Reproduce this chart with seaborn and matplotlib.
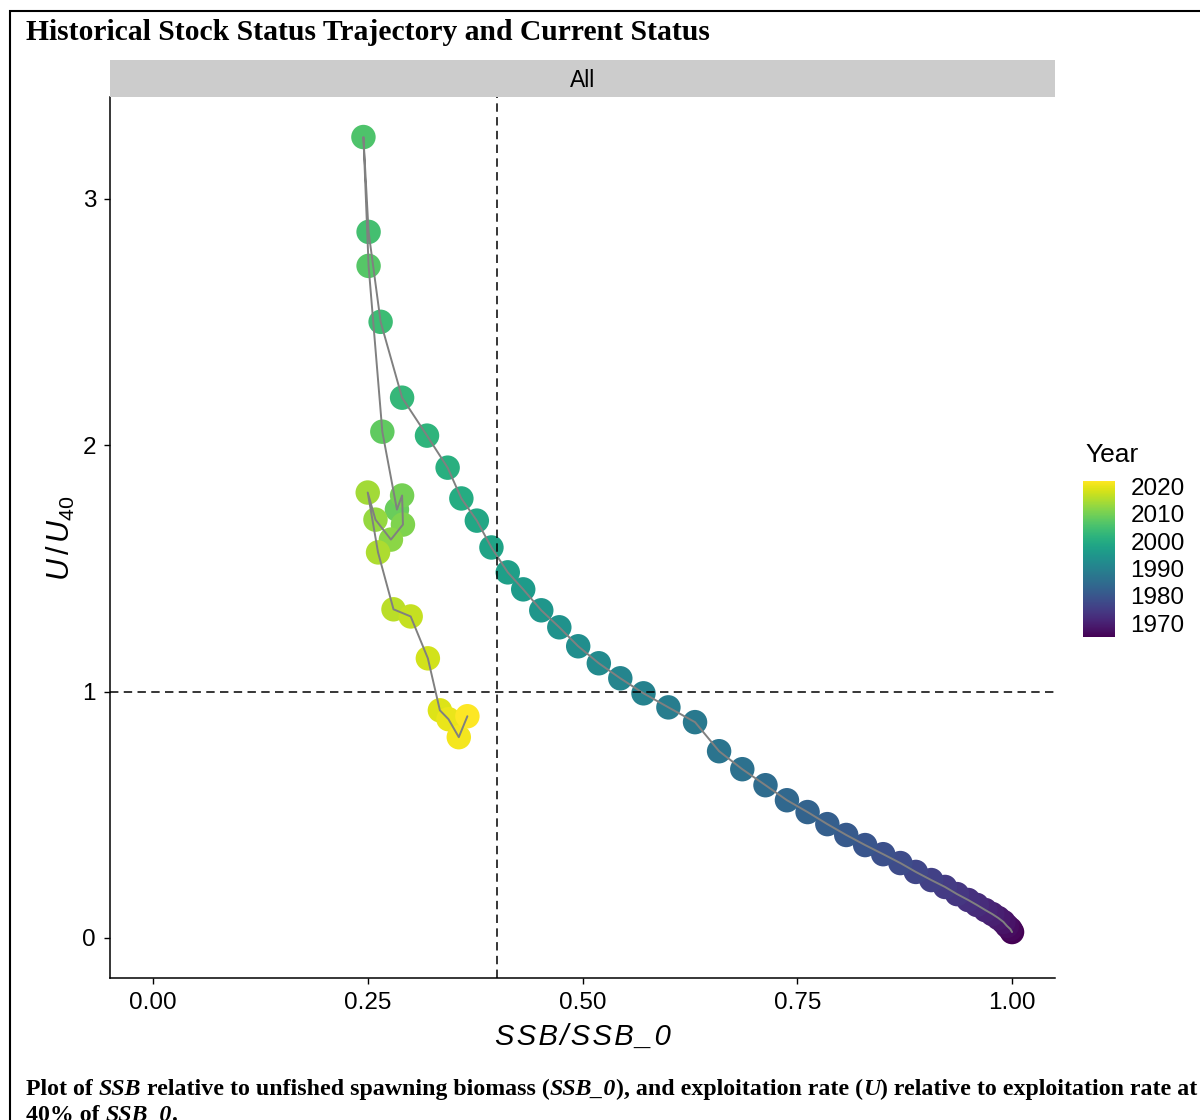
import numpy as np
import pandas as pd
import matplotlib
matplotlib.use("Agg")
import matplotlib.pyplot as plt
import matplotlib.patches as mpatches
import seaborn as sns
from matplotlib import font_manager as fm

# ---------------- data ----------------
years = list(range(1965, 2023))
ssb_ratio = [1.000, 0.998, 0.994, 0.990, 0.984, 0.977, 0.969, 0.959, 0.949, 0.936,
             0.922, 0.906, 0.888, 0.870, 0.850, 0.829, 0.807, 0.785, 0.762, 0.738,
             0.713, 0.686, 0.659, 0.631, 0.600, 0.571, 0.544, 0.519, 0.495, 0.473,
             0.452, 0.431, 0.413, 0.394, 0.377, 0.359, 0.343, 0.319, 0.290, 0.265,
             0.251, 0.245, 0.251, 0.267, 0.284, 0.290, 0.291, 0.277, 0.259, 0.250,
             0.262, 0.280, 0.300, 0.320, 0.334, 0.344, 0.356, 0.366]
u_ratio = [0.024, 0.036, 0.049, 0.065, 0.081, 0.097, 0.113, 0.134, 0.154, 0.178,
           0.207, 0.235, 0.268, 0.304, 0.340, 0.377, 0.418, 0.462, 0.511, 0.559,
           0.620, 0.685, 0.758, 0.876, 0.936, 0.993, 1.054, 1.115, 1.184, 1.261,
           1.330, 1.415, 1.484, 1.585, 1.694, 1.784, 1.909, 2.039, 2.193, 2.501,
           2.866, 3.251, 2.728, 2.055, 1.739, 1.796, 1.678, 1.617, 1.698, 1.808,
           1.565, 1.334, 1.305, 1.135, 0.924, 0.888, 0.815, 0.900]
x_ticks = [0.00, 0.25, 0.50, 0.75, 1.00]
x_tick_labels = ["0.00", "0.25", "0.50", "0.75", "1.00"]
y_ticks = [0, 1, 2, 3]
y_tick_labels = ["0", "1", "2", "3"]
year_ticks = [1970, 1980, 1990, 2000, 2010, 2020]
ssb_ref = 0.4
u_ref = 1.0

title_text = "Historical Stock Status Trajectory and Current Status"
strip_text = "All"
caption_line1 = [("Plot of ", False), ("SSB", True), (" relative to unfished spawning biomass (", False),
                 ("SSB_0", True), ("), and exploitation rate (", False), ("U", True),
                 (") relative to exploitation rate at", False)]
caption_line2 = [("40% of ", False), ("SSB_0", True), (".", False)]

# ---------------- style ----------------
sns.set_theme(style="white")
names = {f.name for f in fm.fontManager.ttflist}
SANS = "Liberation Sans" if "Liberation Sans" in names else "DejaVu Sans"
SERIF = "Liberation Serif" if "Liberation Serif" in names else "DejaVu Serif"
plt.rcParams["font.family"] = [SANS, "DejaVu Sans"]
plt.rcParams["mathtext.fontset"] = "custom"
plt.rcParams["mathtext.it"] = SANS + ":italic"
plt.rcParams["mathtext.rm"] = SANS
plt.rcParams["mathtext.bf"] = SANS + ":bold"

W, H = 1200, 1120
fig = plt.figure(figsize=(W / 100, H / 100), dpi=100)
fig.patch.set_facecolor("white")

def fx(px):
    return px / W

def fy(py):
    return 1 - py / H

# main panel
ax = fig.add_axes([fx(110), fy(978), fx(1055) - fx(110), fy(97) - fy(978)])
df = pd.DataFrame({"Year": years, "SSB_ratio": ssb_ratio, "U_ratio": u_ratio})
norm = plt.Normalize(min(years), max(years))

sns.scatterplot(data=df, x="SSB_ratio", y="U_ratio", hue="Year", palette="viridis",
                hue_norm=norm, s=310, linewidth=0, legend=False, ax=ax, zorder=3)
sns.lineplot(data=df, x="SSB_ratio", y="U_ratio", sort=False, estimator=None,
             color="#808080", lw=1.4, ax=ax, zorder=4)
ax.axvline(ssb_ref, color="black", lw=1.1, ls=(0, (5.5, 3.5)), zorder=5)
ax.axhline(u_ref, color="black", lw=1.1, ls=(0, (5.5, 3.5)), zorder=5)

ymax = max(u_ratio)
ax.set_xlim(-0.05, 1.05)
ax.set_ylim(-0.05 * ymax, ymax * 1.05)
ax.set_xticks(x_ticks)
ax.set_xticklabels(x_tick_labels)
ax.set_yticks(y_ticks)
ax.set_yticklabels(y_tick_labels)
ax.set_xlabel("")
ax.set_ylabel("")
for s in ["top", "right"]:
    ax.spines[s].set_visible(False)
for s in ["left", "bottom"]:
    ax.spines[s].set_color("black")
    ax.spines[s].set_linewidth(1.1)
ax.tick_params(axis="both", which="major", direction="out", length=4, width=1.0,
               color="black", labelsize=17.5, labelcolor="black",
               bottom=True, left=True)
ax.tick_params(axis="x", pad=6)
ax.tick_params(axis="y", pad=6)
ax.set_facecolor("white")

# strip
sax = fig.add_axes([fx(110), fy(97), fx(1055) - fx(110), fy(60) - fy(97)])
sax.set_facecolor("#cccccc")
sax.set_xticks([])
sax.set_yticks([])
for s in sax.spines.values():
    s.set_visible(False)
sax.text(0.5, 0.45, strip_text, ha="center", va="center", fontsize=16.5, color="black",
         transform=sax.transAxes)

# axis titles
hs = "\u200a"
fig.text(fx(583), fy(1037), hs.join("SSB/SSB_0"), ha="center", va="center", fontsize=21,
         fontstyle="italic", color="black")
fig.text(fx(61), fy(538), r"$U\,/\,U_{40}$", ha="center", va="center", fontsize=22,
         rotation=90, color="black")

# colorbar
cax = fig.add_axes([fx(1083), fy(637), fx(1115) - fx(1083), fy(481) - fy(637)])
sm = plt.cm.ScalarMappable(cmap="viridis", norm=norm)
sm.set_array([])
cb = fig.colorbar(sm, cax=cax, ticks=year_ticks)
cb.outline.set_visible(False)
cb.ax.tick_params(direction="in", length=6, width=1, color="white", left=True, right=True,
                  labelsize=17.5, labelcolor="black", pad=11)
cb.ax.set_yticklabels([str(y) for y in year_ticks])
fig.text(fx(1085), fy(455), "Year", ha="left", va="center", fontsize=19, color="black")

# title
fig.text(fx(26), fy(40), title_text, ha="left", va="baseline", fontsize=21.3,
         fontweight="bold", family=SERIF, color="black")

# caption
renderer = fig.canvas.get_renderer()

def piece_width(txt, size, italic):
    def w(s):
        t = fig.text(0, 0, s, fontsize=size, fontweight="bold", family=SERIF,
                     fontstyle="italic" if italic else "normal")
        bb = t.get_window_extent(renderer)
        t.remove()
        return bb.width
    return w("|" + txt + "|") - w("||")

def rich_line(x_px, y_px, pieces, size):
    x = x_px
    for txt, italic in pieces:
        fig.text(fx(x), fy(y_px), txt, fontsize=size, fontweight="bold", family=SERIF,
                 fontstyle="italic" if italic else "normal", ha="left", va="baseline",
                 color="black")
        x += piece_width(txt, size, italic)

rich_line(26, 1095, caption_line1, 17.2)
rich_line(26, 1121, caption_line2, 17.2)

# outer frame
fig.patches.append(mpatches.Rectangle((fx(10), -0.2), 1.5, fy(11) + 0.2, transform=fig.transFigure,
                                      fill=False, edgecolor="black", lw=1.5, figure=fig))

fig.savefig("out.png", dpi=100, facecolor="white")
